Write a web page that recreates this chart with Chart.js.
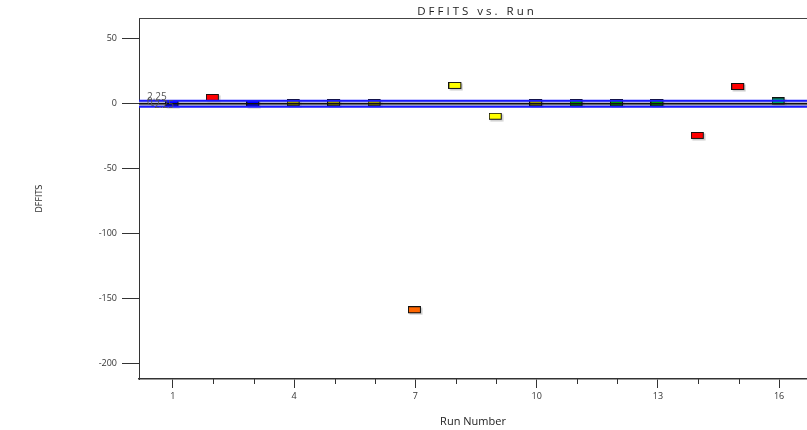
<!DOCTYPE html>
<html>
<head>
<meta charset="utf-8">
<script src="https://cdn.jsdelivr.net/npm/chart.js@4/dist/chart.umd.min.js"></script>
<style>
  html, body { margin: 0; padding: 0; background: #fff; }
  #wrap { width: 807px; height: 430px; position: relative; }
</style>
</head>
<body>
<div id="wrap"><canvas id="c" width="807" height="430"></canvas></div>
<script>
const chartTitle = 'DFFITS vs. Run';
const xTitle = 'Run Number';
const yTitle = 'DFFITS';
const runs = [1, 2, 3, 4, 5, 6, 7, 8, 9, 10, 11, 12, 13, 14, 15, 16];
const dffits = [-0.3, 4.1, -0.3, 0, 0, 0, -159.4, 13.3, -10.4, 0, 0, 0, 0, -25.2, 12.5, 1.4];
const pointColors = ['#0000ff', '#ff0000', '#0000ff', '#999900', '#999900', '#999900', '#ff6600', '#ffff00', '#ffff00', '#999900', '#009900', '#009900', '#009900', '#ff0000', '#ff0000', '#00a070'];
const yTickValues = [-200, -150, -100, -50, 0, 50];
const xMajorTicks = [1, 4, 7, 10, 13, 16];
const limit = 2.25;
const limitLabels = ['2.25', '0', '-2.25'];

function markerImage(color) {
  const cv = document.createElement('canvas');
  cv.width = 15; cv.height = 9;
  const g = cv.getContext('2d');
  g.fillStyle = 'rgba(140,140,140,0.45)';
  g.fillRect(1.5, 1.5, 13, 7);
  g.fillStyle = color;
  g.fillRect(0.5, 0.5, 12, 6);
  g.strokeStyle = '#111';
  g.lineWidth = 1;
  g.strokeRect(0.5, 0.5, 12, 6);
  return cv;
}
const markers = pointColors.map(markerImage);

const bandPlugin = {
  id: 'band',
  beforeDatasetsDraw(chart) {
    const {ctx, chartArea: a, scales: {y}} = chart;
    const yt = y.getPixelForValue(limit), yb = y.getPixelForValue(-limit);
    ctx.save();
    ctx.fillStyle = '#b4b4d2';
    ctx.fillRect(a.left, yt, a.right - a.left, yb - yt);
    ctx.restore();
  },
  afterDatasetsDraw(chart) {
    const {ctx, chartArea: a, scales: {x, y}} = chart;
    const yt = y.getPixelForValue(limit), yb = y.getPixelForValue(-limit), y0 = y.getPixelForValue(0);
    ctx.save();
    ctx.strokeStyle = '#1a1aff';
    ctx.lineWidth = 2;
    [yt, yb].forEach(v => { ctx.beginPath(); ctx.moveTo(a.left, v); ctx.lineTo(a.right, v); ctx.stroke(); });
    ctx.strokeStyle = '#111';
    ctx.lineWidth = 1.5;
    ctx.beginPath(); ctx.moveTo(a.left, y0); ctx.lineTo(a.right, y0); ctx.stroke();
    // limit labels
    ctx.font = '10px "Open Sans"';
    ctx.fillStyle = '#555';
    ctx.textBaseline = 'alphabetic';
    ctx.textAlign = 'left';
    ctx.fillText(limitLabels[0], a.left + 8, yt - 1);
    ctx.fillText(limitLabels[1], a.left + 8, y0 + 1);
    ctx.fillText(limitLabels[2], a.left + 12, yb + 1);
    // top border
    ctx.strokeStyle = '#444';
    ctx.lineWidth = 1;
    ctx.beginPath(); ctx.moveTo(a.left, a.top + 0.5); ctx.lineTo(a.right, a.top + 0.5); ctx.stroke();
    // minor x ticks
    ctx.strokeStyle = '#333';
    runs.forEach(r => {
      if (xMajorTicks.includes(r)) return;
      const px = Math.round(x.getPixelForValue(r)) + 0.5;
      ctx.beginPath(); ctx.moveTo(px, a.bottom); ctx.lineTo(px, a.bottom + 5); ctx.stroke();
    });
    // chart title
    ctx.font = '11.5px "Open Sans"';
    ctx.fillStyle = '#222';
    ctx.textAlign = 'center';
    ctx.textBaseline = 'middle';
    try { ctx.letterSpacing = '3px'; } catch (e) {}
    ctx.fillText(chartTitle, 477, 12);
    ctx.restore();
  }
};

new Chart(document.getElementById('c'), {
  type: 'scatter',
  data: {
    datasets: [{
      data: runs.map((r, i) => ({x: r, y: dffits[i]})),
      pointStyle: markers,
      pointRadius: 6,
      pointHoverRadius: 6,
      showLine: false
    }]
  },
  options: {
    responsive: false,
    animation: false,
    devicePixelRatio: 1,
    layout: { autoPadding: false, padding: { top: 18, right: 0, left: 0, bottom: 0 } },
    plugins: { legend: { display: false }, tooltip: { enabled: false } },
    scales: {
      x: {
        type: 'linear',
        min: 0.16,
        max: 16.69,
        afterBuildTicks: s => { s.ticks = runs.map(v => ({value: v})); },
        afterFit: s => { s.height = 51; s.paddingRight = 0; s.paddingLeft = 0; },
        grid: {
          display: true, drawOnChartArea: false, tickLength: 9,
          tickColor: c => xMajorTicks.includes(c.tick && c.tick.value) ? '#333' : 'rgba(0,0,0,0)'
        },
        border: { display: true, color: '#333', width: 1.5 },
        ticks: {
          autoSkip: false, maxRotation: 0, padding: 3,
          color: '#333', font: { family: 'Open Sans', size: 9 },
          callback: v => xMajorTicks.includes(v) ? String(v) : ''
        },
        title: {
          display: true, text: xTitle, color: '#222',
          font: { family: 'Open Sans', size: 11 },
          padding: { top: 0, bottom: 2 }
        }
      },
      y: {
        type: 'linear',
        min: -212,
        max: 66,
        afterBuildTicks: s => { s.ticks = yTickValues.map(v => ({value: v})); },
        afterFit: s => { s.width = 139; s.paddingTop = 0; s.paddingBottom = 0; },
        grid: { display: true, drawOnChartArea: false, tickLength: 17, color: '#333' },
        border: { display: true, color: '#333', width: 1 },
        ticks: {
          padding: 5, color: '#333', font: { family: 'Open Sans', size: 9 }
        },
        title: {
          display: true, text: yTitle, color: '#333',
          font: { family: 'DejaVu Sans Condensed', size: 9 },
          padding: { top: 34, bottom: 0 }
        }
      }
    }
  },
  plugins: [bandPlugin]
});
</script>
</body>
</html>
